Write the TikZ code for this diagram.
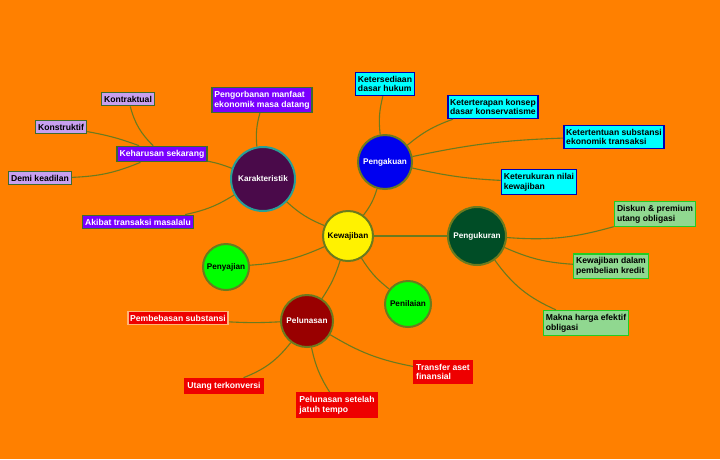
\documentclass[tikz,border=0pt]{standalone}
\usepackage{fontspec}
\setmainfont{Liberation Sans}
\begin{document}
\begin{tikzpicture}[x=1pt,y=-1pt,
 every node/.style={font=\fontsize{8.6}{9.6}\selectfont\bfseries, align=left},
 ln/.style={draw=lnc, line width=1.1pt},
 circ/.style={circle, line width=2pt, inner sep=0pt, font=\fontsize{8.2}{9}\selectfont\bfseries},
 box/.style={draw, line width=1.6pt, inner xsep=2.5pt, inner ysep=3.5pt},
 pur/.style={box, fill=purp, draw=bgr, text=white},
 lav/.style={box, fill=lavc, draw=bgr, text=black},
 cya/.style={box, fill=cyc, draw=blue!70!black, text=black},
 lgr/.style={box, fill=lgc, draw=gcol, text=black},
 red/.style={box, fill=redc, draw=redc, text=white}]
\definecolor{bg}{HTML}{FF8000}
\definecolor{lnc}{HTML}{6B7A1E}
\definecolor{purp}{HTML}{7A00FF}
\definecolor{bgr}{HTML}{3E6B2E}
\definecolor{lavc}{HTML}{C8A0F0}
\definecolor{cyc}{HTML}{00FFFF}
\definecolor{lgc}{HTML}{90D890}
\definecolor{gcol}{HTML}{22CC22}
\definecolor{redc}{HTML}{EE0000}
\fill[bg] (0,0) rectangle (720,459);
\useasboundingbox (0,0) rectangle (720,459);
% circles
\node[circ, fill=yellow, draw=lnc, minimum size=50pt, text=black] (kew) at (348,236) {Kewajiban};
\node[circ, fill={rgb,255:red,74;green,10;blue,74}, draw={rgb,255:red,40;green,160;blue,150}, minimum size=64pt, text=white] (kar) at (263,179) {Karakteristik};
\node[circ, fill={rgb,255:red,0;green,0;blue,240}, draw=lnc, minimum size=54pt, text=white] (pgk) at (385,162) {Pengakuan};
\node[circ, fill={rgb,255:red,0;green,77;blue,38}, draw=lnc, minimum size=58pt, text=white] (pgu) at (477,236) {Pengukuran};
\node[circ, fill={rgb,255:red,0;green,255;blue,0}, draw=lnc, minimum size=46pt, text=black] (pny) at (226,267) {Penyajian};
\node[circ, fill={rgb,255:red,0;green,255;blue,0}, draw=lnc, minimum size=46pt, text=black] (pnl) at (408,304) {Penilaian};
\node[circ, fill={rgb,255:red,153;green,0;blue,0}, draw=lnc, minimum size=52pt, text=white] (pel) at (307,321) {Pelunasan};
% boxes
\node[pur] (a1) at (262,100) {Pengorbanan manfaat\\ekonomik masa datang};
\node[pur] (a2) at (162,154) {Keharusan sekarang};
\node[lav] (a3) at (128,99) {Kontraktual};
\node[lav] (a4) at (61,127) {Konstruktif};
\node[lav] (a5) at (40,178) {Demi keadilan};
\node[pur] (a6) at (138,222) {Akibat transaksi masalalu};
\node[cya] (b1) at (385,84) {Ketersediaan\\dasar hukum};
\node[cya] (b2) at (493,107) {Keterterapan konsep\\dasar konservatisme};
\node[cya] (b3) at (614,137) {Ketertentuan substansi\\ekonomik transaksi};
\node[cya] (b4) at (539,182) {Keterukuran nilai\\kewajiban};
\node[lgr] (c1) at (655,214) {Diskun \& premium\\utang obligasi};
\node[lgr] (c2) at (611,266) {Kewajiban dalam\\pembelian kredit};
\node[lgr] (c3) at (586,323) {Makna harga efektif\\obligasi};
\node[red, draw={rgb,255:red,255;green,180;blue,120}] (d1) at (178,318) {Pembebasan substansi};
\node[red] (d2) at (224,386) {Utang terkonversi};
\node[red] (d3) at (337,405) {Pelunasan setelah\\jatuh tempo};
\node[red] (d4) at (443,372) {Transfer aset\\finansial};
% connectors
\draw[ln] (kew) to[bend left=10] (kar);
\draw[ln] (kew) to[bend right=10] (pgk);
\draw[ln] (kew) -- (pgu);
\draw[ln] (kew) to[bend left=10] (pny);
\draw[ln] (kew) to[bend right=10] (pnl);
\draw[ln] (kew) to[bend left=8] (pel);
\draw[ln] (kar) to[bend left=10] (a1);
\draw[ln] (kar) to[bend right=5] (a2);
\draw[ln] (kar) to[bend left=10] (a6);
\draw[ln] (a2) to[bend left=15] (a3);
\draw[ln] (a2) to[bend right=5] (a4);
\draw[ln] (a2) to[bend left=10] (a5);
\draw[ln] (pgk) to[bend left=10] (b1);
\draw[ln] (pgk) to[bend left=10] (b2);
\draw[ln] (pgk) to[bend left=5] (b3);
\draw[ln] (pgk) to[bend right=5] (b4);
\draw[ln] (pgu) to[bend right=10] (c1);
\draw[ln] (pgu) to[bend right=10] (c2);
\draw[ln] (pgu) to[bend right=15] (c3);
\draw[ln] (pel) to[bend left=3] (d1);
\draw[ln] (pel) to[bend left=15] (d2);
\draw[ln] (pel) to[bend right=10] (d3);
\draw[ln] (pel) to[bend right=10] (d4);
\end{tikzpicture}
\end{document}
